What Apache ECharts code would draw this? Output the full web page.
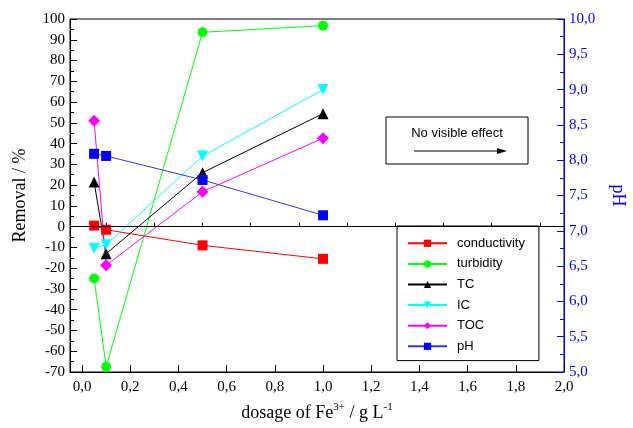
<!DOCTYPE html>
<html>
<head>
<meta charset="utf-8">
<script src="https://cdn.jsdelivr.net/npm/echarts@6/dist/echarts.min.js"></script>
<style>
  html, body { margin: 0; padding: 0; background: #fff; }
  #chart { width: 633px; height: 428px; }
</style>
</head>
<body>
<div id="chart"></div>
<script>
// dosage of Fe3+ (g/L)
var dosage = [0.05, 0.1, 0.5, 1.0];
// removal in %
var conductivity = [0.5, -1.5, -9, -15.5];
var turbidity = [-25, -67.5, 93.6, 96.8];
var tc = [21.5, -13, 26, 54.4];
var ic = [-10.4, -8.7, 34, 66];
var toc = [51, -18.6, 16.8, 42.6];
// pH (right axis)
var ph = [8.09, 8.06, 7.72, 7.22];

var xMajor = [0, 0.2, 0.4, 0.6, 0.8, 1.0, 1.2, 1.4, 1.6, 1.8, 2.0];
var xMinor = [0.1, 0.3, 0.5, 0.7, 0.9, 1.1, 1.3, 1.5, 1.7, 1.9];

var serif = 'Liberation Serif';
var sans = 'Liberation Sans';

function pairs(ys) {
    return dosage.map(function (x, i) { return [x, ys[i]]; });
}

function comma(v) {
    return v.toFixed(1).replace('.', ',');
}

function mkSeries(name, ys, color, symbol, size, extra) {
    var s = {
        name: name,
        type: 'line',
        data: pairs(ys),
        symbol: symbol,
        symbolSize: size,
        lineStyle: { color: color, width: 1 },
        itemStyle: { color: color },
        emphasis: { disabled: true },
        animation: false,
        z: 3
    };
    for (var k in extra) s[k] = extra[k];
    return s;
}

var myChart = echarts.init(document.getElementById('chart'));

var option = {
    animation: false,
    grid: {
        left: 70, right: 69, top: 19, bottom: 56,
        outerBoundsMode: 'none',
        containLabel: false,
        show: true, borderColor: '#000', borderWidth: 1, backgroundColor: 'transparent'
    },
    legend: {
        orient: 'vertical',
        left: 397, top: 226,
        data: ['conductivity', 'turbidity', 'TC', 'IC', 'TOC', 'pH'],
        itemWidth: 39, itemHeight: 9, itemGap: 6,
        padding: [10, 14, 7, 10],
        backgroundColor: '#fff',
        borderColor: '#000', borderWidth: 1, borderRadius: 0,
        textStyle: { fontFamily: sans, fontSize: 13, color: '#000', padding: [0, 0, 0, 5], lineHeight: 14.6 },
        selectedMode: false
    },
    xAxis: [{
        type: 'value',
        min: -0.05, max: 2.0,
        name: '{a|dosage of Fe}{s|3+}{a| / g L}{s|-1}',
        nameLocation: 'middle', nameGap: 30,
        nameTextStyle: {
            rich: {
                a: { fontFamily: serif, fontSize: 18, color: '#000' },
                s: { fontFamily: serif, fontSize: 11, color: '#000', padding: [0, 0, 11, 0] }
            }
        },
        axisLine: { show: true, onZero: false, lineStyle: { color: '#000', width: 1 } },
        axisTick: { show: true, inside: true, length: 7, customValues: xMajor, lineStyle: { color: '#000' } },
        axisLabel: {
            customValues: xMajor, margin: 8,
            fontFamily: serif, fontSize: 15, color: '#000',
            formatter: function (v) { return comma(v); }
        },
        splitLine: { show: false }
    }, {
        type: 'value',
        position: 'bottom',
        min: -0.05, max: 2.0,
        axisLine: { show: false },
        axisTick: { show: true, inside: true, length: 4, customValues: xMinor, lineStyle: { color: '#000' } },
        axisLabel: { show: false },
        splitLine: { show: false }
    }],
    yAxis: [{
        type: 'value',
        min: -70, max: 100, interval: 10,
        name: 'Removal / %',
        nameLocation: 'middle', nameGap: 41,
        nameTextStyle: { fontFamily: serif, fontSize: 18, color: '#000' },
        axisLine: { show: true, onZero: false, lineStyle: { color: '#000', width: 1 } },
        axisTick: { show: true, inside: true, length: 7, lineStyle: { color: '#000' } },
        minorTick: { show: true, splitNumber: 2, length: 4, lineStyle: { color: '#000' } },
        axisLabel: { fontFamily: serif, fontSize: 15, color: '#000', margin: 5 },
        splitLine: { show: false }
    }, {
        type: 'value',
        position: 'right',
        min: 5, max: 10, interval: 0.5,
        name: 'pH',
        nameLocation: 'middle', nameGap: 45, nameRotate: -90,
        nameTextStyle: { fontFamily: serif, fontSize: 18, color: '#0000ff' },
        axisLine: { show: true, onZero: false, lineStyle: { color: '#0000ff', width: 1 } },
        axisTick: { show: true, inside: true, length: 7, lineStyle: { color: '#0000ff' } },
        minorTick: { show: true, splitNumber: 2, length: 4, lineStyle: { color: '#0000ff' } },
        axisLabel: {
            fontFamily: serif, fontSize: 15, color: '#0000ff', margin: 5,
            formatter: function (v) { return comma(v); }
        },
        splitLine: { show: false }
    }],
    series: [
        mkSeries('conductivity', conductivity, '#ff0000', 'rect', 10, {
            markLine: {
                silent: true, symbol: 'none', animation: false,
                label: { show: false },
                lineStyle: { color: '#000', width: 1, type: 'solid' },
                data: [{ yAxis: 0 }]
            }
        }),
        mkSeries('turbidity', turbidity, '#00ff00', 'circle', 10, {}),
        mkSeries('TC', tc, '#000000', 'triangle', 11, {}),
        mkSeries('IC', ic, '#00ffff', 'triangle', 11, { symbolRotate: 180 }),
        mkSeries('TOC', toc, '#ff00ff', 'diamond', 12, {}),
        mkSeries('pH', ph, '#0000ff', 'rect', 10, {
            yAxisIndex: 1,
            lineStyle: { color: '#3333ff', width: 1 }
        })
    ],
    graphic: [
        {
            type: 'rect', z: 10,
            shape: { x: 386, y: 117, width: 142, height: 47 },
            style: { fill: '#fff', stroke: '#000', lineWidth: 1 }
        },
        {
            type: 'text', z: 11,
            x: 457, y: 133,
            style: {
                text: 'No visible effect', fontFamily: sans, fontSize: 13, fill: '#000',
                textAlign: 'center', textVerticalAlign: 'middle'
            }
        },
        {
            type: 'line', z: 11,
            shape: { x1: 414, y1: 151, x2: 500, y2: 151 },
            style: { stroke: '#000', lineWidth: 1 }
        },
        {
            type: 'polygon', z: 11,
            shape: { points: [[497, 148], [507, 151], [497, 154]] },
            style: { fill: '#000' }
        }
    ]
};

myChart.setOption(option);
</script>
</body>
</html>
